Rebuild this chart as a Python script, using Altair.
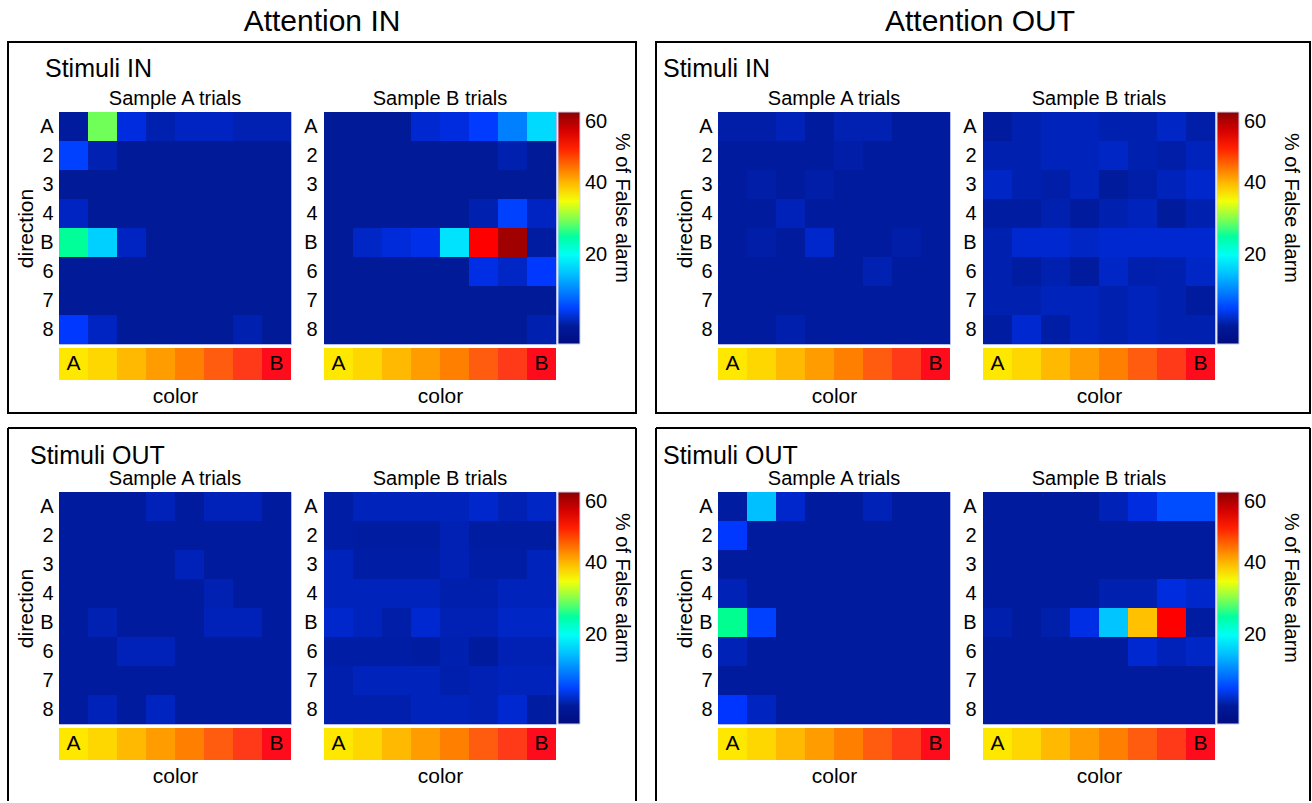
import altair as alt
import pandas as pd

FONT = "Liberation Sans"

# ---------------- data ----------------
row_labels = ["A", "2", "3", "4", "B", "6", "7", "8"]
col_index = [1, 2, 3, 4, 5, 6, 7, 8]
strip_colors = ["#ffe800", "#ffd700", "#ffb900", "#ff9d00", "#ff7f00", "#ff5c10", "#ff3a18", "#ff0c1c"]
strip_marks = ["A", "", "", "", "", "", "", "B"]

# colour map (jet-like) for % of False alarm
cmap_domain = [-5, 0, 4, 19.4, 26, 31, 35.6, 43.75, 51.9, 60]
cmap_range = ["#000c80", "#001a98", "#0034ff", "#00ffff", "#00ff90", "#a0ff40",
              "#ffff00", "#ff8000", "#ff0000", "#8c0000"]
legend_ticks = [20, 40, 60]
legend_title = "% of False alarm"

# Attention IN / Stimuli IN
att_in_stim_in_A = [
    [0.2, 29.5, 2.8, 0.9, 1.6, 1.6, 1.0, 1.0],
    [5.0, 1.0, 0, 0, 0, 0, 0, 0],
    [0, 0, 0, 0, 0, 0, 0, 0],
    [1.6, 0, 0, 0, 0, 0, 0, 0],
    [25.5, 15.8, 1.6, 0, 0, 0, 0, 0],
    [0, 0, 0, 0, 0, 0, 0, 0],
    [0, 0, 0, 0, 0, 0, 0, 0],
    [4.3, 1.6, 0, 0, 0, 0, 0.9, 0],
]
att_in_stim_in_B = [
    [0, 0, 0, 2.2, 2.8, 4.5, 9.8, 16.6],
    [0, 0, 0, 0, 0, 0, 0.9, 0],
    [0, 0, 0, 0, 0, 0, 0, 0],
    [0, 0, 0, 0, 0, 0.9, 5.0, 1.6],
    [0, 1.8, 2.6, 3.2, 17.3, 51.9, 58.6, 0.3],
    [0, 0, 0, 0, 0, 3.0, 1.8, 4.3],
    [0, 0, 0, 0, 0, 0, 0, 0],
    [0, 0, 0, 0, 0, 0, 0, 0.9],
]
# Attention OUT / Stimuli IN
att_out_stim_in_A = [
    [0.6, 0.6, 1.3, 0.2, 1.0, 1.0, 0.2, 0.2],
    [0.2, 0.2, 0.2, 0.2, 0.6, 0.2, 0.2, 0.2],
    [0.2, 0.6, 0.2, 0.6, 0.2, 0.2, 0.2, 0.2],
    [0.2, 0.2, 1.3, 0.2, 0.2, 0.2, 0.2, 0.2],
    [0.2, 0.6, 0.2, 2.0, 0.2, 0.2, 0.6, 0.2],
    [0.2, 0.2, 0.2, 0.2, 0.2, 1.0, 0.2, 0.2],
    [0.2, 0.2, 0.2, 0.2, 0.2, 0.2, 0.2, 0.2],
    [0.2, 0.2, 0.8, 0.2, 0.2, 0.2, 0.2, 0.2],
]
att_out_stim_in_B = [
    [0.2, 0.9, 1.4, 1.4, 0.9, 0.9, 1.8, 0.6],
    [0.9, 0.9, 1.4, 1.4, 1.8, 0.9, 0.6, 1.4],
    [1.8, 0.9, 0.6, 1.4, 0.1, 0.6, 1.4, 2.0],
    [0.4, 0.4, 0.9, 0.2, 0.9, 1.4, 0.1, 0.9],
    [0.9, 2.2, 2.2, 1.8, 2.2, 2.2, 2.2, 2.2],
    [0.9, 0.3, 0.9, 0.2, 1.8, 0.8, 0.9, 1.8],
    [0.9, 0.9, 1.4, 1.4, 0.9, 1.4, 0.9, 0.2],
    [0.3, 2.2, 0.5, 1.4, 0.9, 1.4, 0.9, 0.9],
]
# Attention IN / Stimuli OUT
att_in_stim_out_A = [
    [0.2, 0.2, 0.2, 1.3, 0.2, 1.3, 1.3, 0.2],
    [0.2, 0.2, 0.2, 0.2, 0.2, 0.2, 0.2, 0.2],
    [0.2, 0.2, 0.2, 0.2, 1.3, 0.2, 0.2, 0.2],
    [0.2, 0.2, 0.2, 0.2, 0.2, 1.0, 0.2, 0.2],
    [0.2, 1.0, 0.2, 0.2, 0.2, 1.3, 1.3, 0.2],
    [0.2, 0.2, 1.3, 1.3, 0.2, 0.2, 0.2, 0.2],
    [0.2, 0.2, 0.2, 0.2, 0.2, 0.2, 0.2, 0.2],
    [0.2, 1.3, 0.2, 1.5, 0.2, 0.2, 0.2, 0.2],
]
att_in_stim_out_B = [
    [0.5, 1.4, 1.4, 1.4, 1.4, 2.0, 1.1, 1.8],
    [0.5, 0.3, 0.3, 0.3, 1.1, 0.3, 0.3, 0.3],
    [1.4, 0.5, 0.5, 0.5, 1.1, 0.5, 0.5, 1.4],
    [1.4, 1.4, 1.4, 1.4, 0.8, 0.8, 1.4, 1.4],
    [2.0, 1.4, 0.6, 2.2, 1.1, 1.1, 1.8, 1.8],
    [0.5, 0.5, 0.5, 0.3, 0.9, 0.2, 1.1, 1.1],
    [0.8, 1.4, 1.4, 1.4, 0.8, 1.1, 1.4, 1.4],
    [0.8, 0.8, 0.8, 1.4, 1.4, 1.1, 2.2, 0.3],
]
# Attention OUT / Stimuli OUT
att_out_stim_out_A = [
    [0.3, 14.6, 2.0, 0.2, 0.2, 1.2, 0.2, 0.2],
    [4.3, 0.2, 0.2, 0.2, 0.2, 0.2, 0.2, 0.2],
    [0.2, 0.2, 0.2, 0.2, 0.2, 0.2, 0.2, 0.2],
    [1.2, 0.2, 0.2, 0.2, 0.2, 0.2, 0.2, 0.2],
    [26.0, 5.0, 0.2, 0.2, 0.2, 0.2, 0.2, 0.2],
    [1.2, 0.2, 0.2, 0.2, 0.2, 0.2, 0.2, 0.2],
    [0.2, 0.2, 0.2, 0.2, 0.2, 0.2, 0.2, 0.2],
    [4.0, 1.5, 0.2, 0.2, 0.2, 0.2, 0.2, 0.2],
]
att_out_stim_out_B = [
    [0.2, 0.2, 0.2, 0.2, 1.2, 2.8, 5.8, 5.8],
    [0.2, 0.2, 0.2, 0.2, 0.2, 0.2, 0.2, 0.2],
    [0.2, 0.2, 0.2, 0.2, 0.2, 0.2, 0.2, 0.2],
    [0.2, 0.2, 0.2, 0.2, 0.9, 0.9, 2.8, 2.0],
    [0.8, 0.2, 0.7, 3.0, 15.0, 39.6, 51.9, 0.3],
    [0.2, 0.2, 0.2, 0.2, 0.2, 2.2, 1.3, 1.8],
    [0.2, 0.2, 0.2, 0.2, 0.2, 0.2, 0.2, 0.2],
    [0.2, 0.2, 0.2, 0.2, 0.2, 0.2, 0.2, 0.2],
]

HEAT = 232
STRIP_H = 32
NO_VIEW = alt.ViewBackground(stroke="transparent", strokeWidth=0)


def heat_df(mat):
    recs = []
    for i, r in enumerate(row_labels):
        for j, c in enumerate(col_index):
            recs.append({"row": r, "col": c, "value": mat[i][j]})
    return pd.DataFrame(recs)


def one():
    return pd.DataFrame({"d": [0]})


def cscale():
    return alt.Scale(domain=cmap_domain, range=cmap_range, interpolate="rgb", clamp=True)


def color_enc(show_legend):
    if show_legend:
        leg = alt.Legend(
            type="gradient", title=None, values=legend_ticks, orient="right", offset=2, padding=0,
            gradientLength=HEAT, gradientThickness=22, labelFontSize=20, labelOffset=5,
            labelOverlap=False, labelFont=FONT,
            gradientStrokeColor="#c8d0f0", gradientStrokeWidth=1,
        )
        return alt.Color("value:Q", scale=cscale(), legend=leg)
    return alt.Color("value:Q", scale=cscale(), legend=None)


def heat(mat, title, ytitle, show_legend, decor):
    if ytitle:
        yaxis = alt.Axis(labelFontSize=20, labelPadding=6, ticks=False, domain=False,
                         labelFont=FONT, titleFont=FONT, titleFontSize=21,
                         titleFontWeight="normal", titlePadding=3, title=ytitle)
    else:
        yaxis = alt.Axis(labelFontSize=20, labelPadding=7, ticks=False, domain=False,
                         labelFont=FONT, title=None)
    base = alt.Chart(heat_df(mat)).mark_rect().encode(
        x=alt.X("col:O", axis=None, scale=alt.Scale(paddingInner=0, paddingOuter=0)),
        y=alt.Y("row:N", sort=row_labels, axis=yaxis,
                scale=alt.Scale(paddingInner=0, paddingOuter=0)),
        color=color_enc(show_legend),
    )
    return alt.layer(base, *decor).properties(
        width=HEAT, height=HEAT,
        title=alt.TitleParams(title, fontSize=20, fontWeight="normal", font=FONT,
                              offset=3, anchor="middle"),
        view=alt.ViewBackground(stroke="#b4bcec", strokeWidth=1),
    )


def strip(decor):
    df = pd.DataFrame({"col": col_index, "fill": strip_colors, "lab": strip_marks})
    r = alt.Chart(df).mark_rect().encode(
        x=alt.X("col:O", scale=alt.Scale(paddingInner=0, paddingOuter=0),
                axis=alt.Axis(title="color", labels=False, ticks=False, domain=False,
                              titleFont=FONT, titleFontSize=21, titleFontWeight="normal",
                              titlePadding=5)),
        color=alt.Color("fill:N", scale=None),
    )
    t = alt.Chart(df).mark_text(fontSize=21, font=FONT, color="black").encode(
        x=alt.X("col:O"), text="lab:N")
    return alt.layer(r, t, *decor).properties(width=HEAT, height=STRIP_H, view=NO_VIEW)


def spacer(w, h):
    return alt.Chart(one()).mark_point(opacity=0).encode(
        x=alt.value(0), y=alt.value(0)).properties(width=w, height=h, view=NO_VIEW)


def text(label, x, y, size, align, angle=0):
    return alt.Chart(one()).mark_text(text=label, fontSize=size, font=FONT, align=align,
                                      baseline="middle", color="black", angle=angle).encode(
        x=alt.value(x), y=alt.value(y))


def box(x1, x2, y1, y2):
    return alt.Chart(one()).mark_rect(filled=False, stroke="black", strokeWidth=2).encode(
        x=alt.value(x1), x2=alt.value(x2), y=alt.value(y1), y2=alt.value(y2))


def open_box(x1, x2, y1, y2):
    top = alt.Chart(one()).mark_rule(stroke="black", strokeWidth=2).encode(
        x=alt.value(x1), x2=alt.value(x2), y=alt.value(y1))
    left = alt.Chart(one()).mark_rule(stroke="black", strokeWidth=2).encode(
        x=alt.value(x1), y=alt.value(y1), y2=alt.value(y2))
    right = alt.Chart(one()).mark_rule(stroke="black", strokeWidth=2).encode(
        x=alt.value(x2), y=alt.value(y1), y2=alt.value(y2))
    return [top, left, right]


# decorations, positioned relative to the colour strip under each "Sample A" map
canvas = alt.Chart(one()).mark_rect(opacity=0).encode(
    x=alt.value(-59), x2=alt.value(1253), y=alt.value(-348), y2=alt.value(455))

decor_tl = [canvas, box(-51, 577, -306, 65),
            text("Attention IN", 263, -326, 30, "center"),
            text("Stimuli IN", -14, -279, 25, "left")]
decor_tr = [box(-62, 592, -306, 65),
            text("Attention OUT", 262, -326, 30, "center"),
            text("Stimuli IN", -55, -279, 25, "left")]
decor_bl = open_box(-51, 577, -300, 73) + [text("Stimuli OUT", -29, -272, 25, "left")]
decor_br = open_box(-62, 592, -300, 73) + [text("Stimuli OUT", -55, -272, 25, "left")]

cb_title_l = [text(legend_title, 298, 96, 20, "center", 90)]
cb_title_r = [text(legend_title, 308, 96, 20, "center", 90)]

charts = [
    heat(att_in_stim_in_A, "Sample A trials", "direction", False, []),
    heat(att_in_stim_in_B, "Sample B trials", None, True, cb_title_l),
    spacer(96, 1),
    heat(att_out_stim_in_A, "Sample A trials", "direction", False, []),
    heat(att_out_stim_in_B, "Sample B trials", None, True, cb_title_r),
    strip(decor_tl), strip([]), spacer(1, 1), strip(decor_tr), strip([]),
    spacer(1, 104), spacer(1, 1), spacer(1, 1), spacer(1, 1), spacer(1, 1),
    heat(att_in_stim_out_A, "Sample A trials", "direction", False, []),
    heat(att_in_stim_out_B, "Sample B trials", None, True, cb_title_l),
    spacer(1, 1),
    heat(att_out_stim_out_A, "Sample A trials", "direction", False, []),
    heat(att_out_stim_out_B, "Sample B trials", None, True, cb_title_r),
    strip(decor_bl), strip([]), spacer(1, 1), strip(decor_br), strip([]),
]

chart = alt.concat(*charts, columns=5, spacing={"row": 4, "column": 33}, bounds="flush").resolve_scale(
    color="independent", x="independent", y="independent"
).properties(padding=0, background="white").configure(
    font=FONT, view=alt.ViewConfig(stroke="transparent")
)

chart.save("out.html", embed_options={"renderer": "svg", "actions": False})
